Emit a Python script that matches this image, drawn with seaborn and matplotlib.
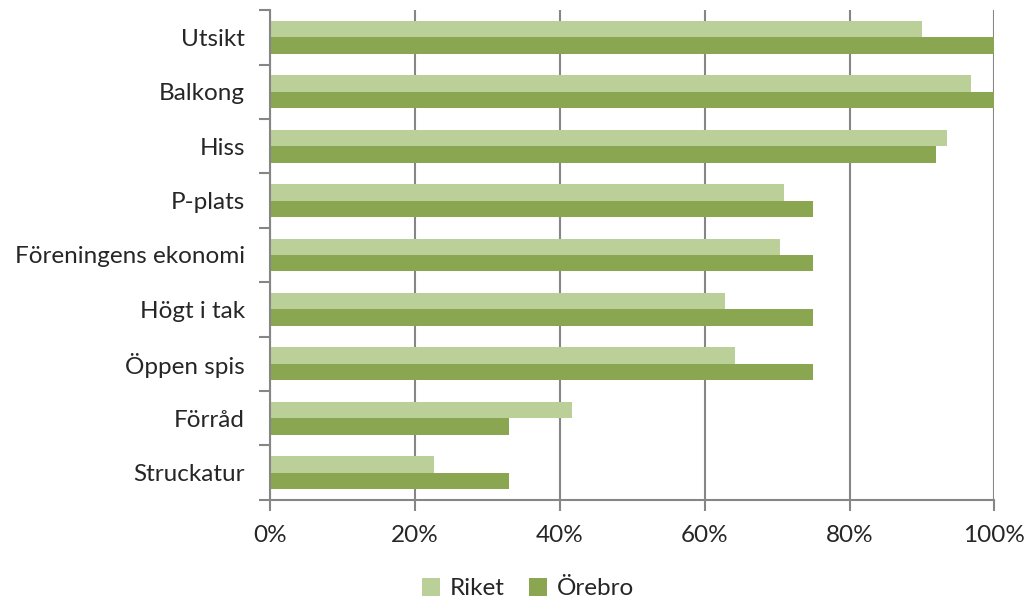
import matplotlib
matplotlib.use("Agg")
import matplotlib.pyplot as plt
from matplotlib.ticker import FixedLocator, PercentFormatter
from matplotlib.patches import Patch
import seaborn as sns
import pandas as pd
import numpy as np

categories = ["Utsikt", "Balkong", "Hiss", "P-plats", "Föreningens ekonomi",
              "Högt i tak", "Öppen spis", "Förråd", "Struckatur"]
riket = [0.900, 0.967, 0.935, 0.709, 0.704, 0.628, 0.642, 0.417, 0.226]
orebro = [1.00, 1.00, 0.919, 0.75, 0.75, 0.75, 0.75, 0.33, 0.33]
series = ["Riket", "Örebro"]
colors = ["#BBCF99", "#8AA650"]

df = pd.DataFrame({
    "Kategori": categories * 2,
    "Andel": riket + orebro,
    "Serie": [series[0]] * len(categories) + [series[1]] * len(categories),
})

sns.set_theme(style="white")
plt.rcParams["font.family"] = ["Lato", "DejaVu Sans"]

fig = plt.figure(figsize=(10.25, 6.0), dpi=100)
ax = fig.add_axes([0.2634, 0.167, 0.7068, 0.816])

sns.barplot(data=df, y="Kategori", x="Andel", hue="Serie", order=categories,
            hue_order=series, palette=colors, width=0.6, orient="h",
            ax=ax, legend=False, saturation=1, edgecolor="none")

grid_col = "#868686"
fs = 17.5
ax.set_xlim(0, 1.0)
ax.set_ylim(len(categories) - 0.5, -0.5)
ax.xaxis.set_major_locator(FixedLocator([0, 0.2, 0.4, 0.6, 0.8, 1.0]))
ax.xaxis.set_major_formatter(PercentFormatter(1.0, decimals=0))
ax.grid(axis="x", color=grid_col, linewidth=1.5)
ax.set_axisbelow(True)

# category ticks between groups
ax.set_yticks(range(len(categories)))
ax.set_yticklabels(categories)
ax.set_yticks(np.arange(-0.5, len(categories), 1.0), minor=True)
ax.tick_params(axis="y", which="major", length=0, pad=18, labelsize=fs)
ax.tick_params(axis="y", which="minor", length=8, width=1.5, color=grid_col, left=True)
ax.tick_params(axis="x", which="major", length=8, width=1.5, color=grid_col,
               bottom=True, pad=10, labelsize=fs)

for side in ["top", "right"]:
    ax.spines[side].set_visible(False)
for side in ["left", "bottom"]:
    ax.spines[side].set_color(grid_col)
    ax.spines[side].set_linewidth(1.5)

ax.set_xlabel("")
ax.set_ylabel("")

handles = [Patch(facecolor=c, edgecolor="none", label=s) for s, c in zip(series, colors)]
fig.legend(handles=handles, loc="lower center", bbox_to_anchor=(0.515, -0.035), ncol=2,
           frameon=False, fontsize=fs, handlelength=0.75, handleheight=0.75,
           handletextpad=0.4, columnspacing=1.0)

fig.savefig("out.png", dpi=100)
